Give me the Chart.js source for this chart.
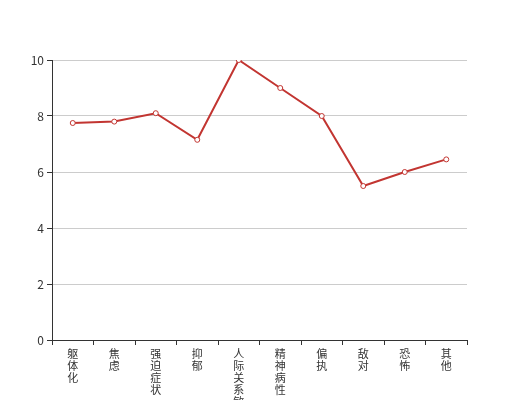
<!DOCTYPE html>
<html>
<head>
<meta charset="utf-8">
<script src="https://cdn.jsdelivr.net/npm/chart.js@4"></script>
<style>
  html, body { margin: 0; padding: 0; background: #fff; }
  #wrap { width: 520px; height: 400px; }
</style>
</head>
<body>
<div id="wrap"><canvas id="chart" width="520" height="400"></canvas></div>
<script>
// categories and values
const categories = ['躯体化', '焦虑', '强迫症状', '抑郁', '人际关系敏感', '精神病性', '偏执', '敌对', '恐怖', '其他'];
const scores = [7.75, 7.8, 8.1, 7.15, 10, 9, 8, 5.5, 6, 6.45];
const yTicks = [0, 2, 4, 6, 8, 10];

// vertical labels: one character per line
const verticalLabels = categories.map(c => c.split(''));

const FONT = '"Noto Sans CJK SC", "Noto Sans", sans-serif';

new Chart(document.getElementById('chart'), {
    type: 'line',
    data: {
        labels: verticalLabels,
        datasets: [{
            data: scores,
            borderColor: '#c23531',
            borderWidth: 2,
            backgroundColor: '#fff',
            pointBackgroundColor: '#fff',
            pointBorderColor: '#c23531',
            pointBorderWidth: 1,
            pointRadius: 2.5,
            tension: 0,
            fill: false
        }]
    },
    options: {
        responsive: false,
        animation: false,
        layout: { padding: { left: 0, right: 53, top: 60, bottom: 0 } },
        plugins: { legend: { display: false }, tooltip: { enabled: false } },
        scales: {
            x: {
                offset: true,
                grid: {
                    offset: true,
                    drawOnChartArea: false,
                    drawTicks: true,
                    tickLength: 5,
                    tickColor: '#333'
                },
                border: { color: '#333', width: 1 },
                ticks: {
                    color: '#333',
                    padding: 3,
                    maxRotation: 0,
                    autoSkip: false,
                    font: { family: FONT, size: 11, lineHeight: '12px' }
                },
                afterFit: s => { s.height = 60; }
            },
            y: {
                min: 0,
                max: 10,
                afterBuildTicks: s => { s.ticks = yTicks.map(v => ({ value: v })); },
                grid: {
                    color: '#ccc',
                    tickColor: '#333',
                    tickLength: 5
                },
                border: { color: '#333', width: 1 },
                ticks: {
                    color: '#333',
                    padding: 3,
                    font: { family: FONT, size: 12 }
                },
                afterFit: s => { s.width = 52; }
            }
        }
    }
});
</script>
</body>
</html>
